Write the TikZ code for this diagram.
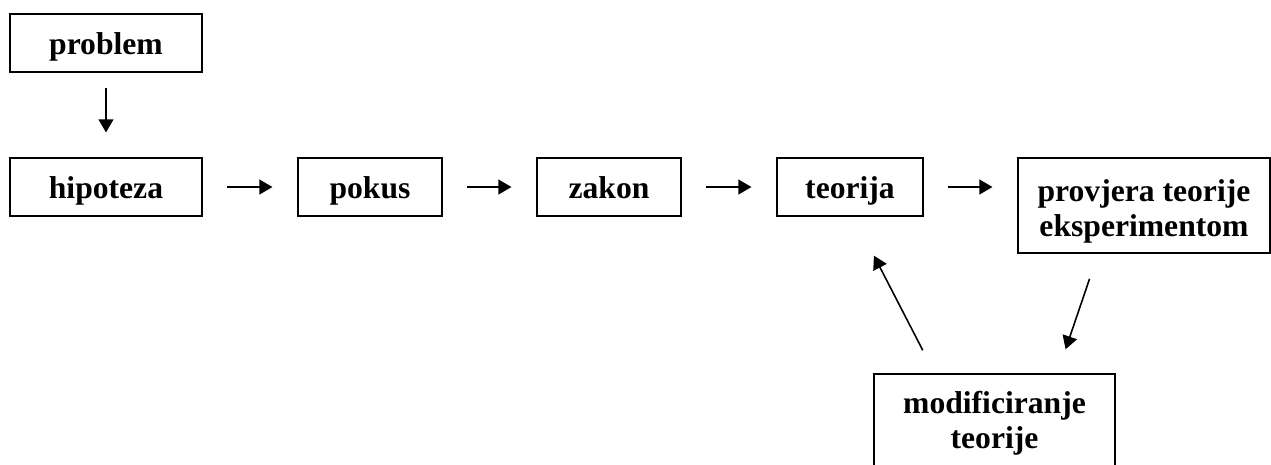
\documentclass[tikz,border=0pt]{standalone}
\usepackage{fontspec}
\setmainfont{Liberation Serif}
\usetikzlibrary{arrows.meta, calc}

\begin{document}
\begin{tikzpicture}[
  x=0.02cm, y=-0.02cm,
  stage/.style={draw, line width=1.1pt, font=\fontsize{18}{20}\selectfont\bfseries,
                align=center, inner sep=0pt, minimum height=1.16cm},
  oneline/.style={stage, text height=14.5pt, text depth=1.5pt},
  twoline/.style={stage, minimum height=1.9cm},
  flow/.style={line width=0.9pt, -{Triangle[length=7.5pt, width=8.5pt]}}
]
\clip (0,0) rectangle (1271,464);

% Main row of stages
\node[oneline, minimum width=3.84cm] (problem)  at (106,43)  {problem};
\node[oneline, minimum width=3.84cm] (hipoteza) at (106,187) {hipoteza};
\node[oneline, minimum width=2.88cm] (pokus)    at (370,187) {pokus};
\node[oneline, minimum width=2.88cm] (zakon)    at (609,187) {zakon};
\node[oneline, minimum width=2.92cm] (teorija)  at (850,187) {teorija};
\node[twoline, minimum width=5.04cm] (provjera) at (1144,205.5)
  {\rule{0pt}{19pt}provjera teorije\\eksperimentom};
\node[twoline, minimum width=4.82cm] (modif) at (994.5,421.5)
  {\rule{0pt}{15pt}modificiranje\\teorije};

% Arrows between stages
\draw[flow, shorten <=8.5pt, shorten >=14pt] (problem) -- (hipoteza);
\draw[flow, shorten <=13.6pt, shorten >=14pt] (hipoteza) -- (pokus);
\draw[flow, shorten <=13.6pt, shorten >=14pt] (pokus) -- (zakon);
\draw[flow, shorten <=13.6pt, shorten >=14pt] (zakon) -- (teorija);
\draw[flow, shorten <=13.6pt, shorten >=14pt] (teorija) -- (provjera.west |- teorija.east);

% Feedback loop
\draw[flow, shorten <=15pt, shorten >=14.3pt]
  ($(provjera.south)+(-46,0)$) -- ($(modif.north)+(63,0)$);
\draw[flow, shorten <=14.6pt, shorten >=24.8pt]
  ($(modif.north)+(-60,0)$) -- ($(teorija.south)+(4,0)$);
\end{tikzpicture}
\end{document}
